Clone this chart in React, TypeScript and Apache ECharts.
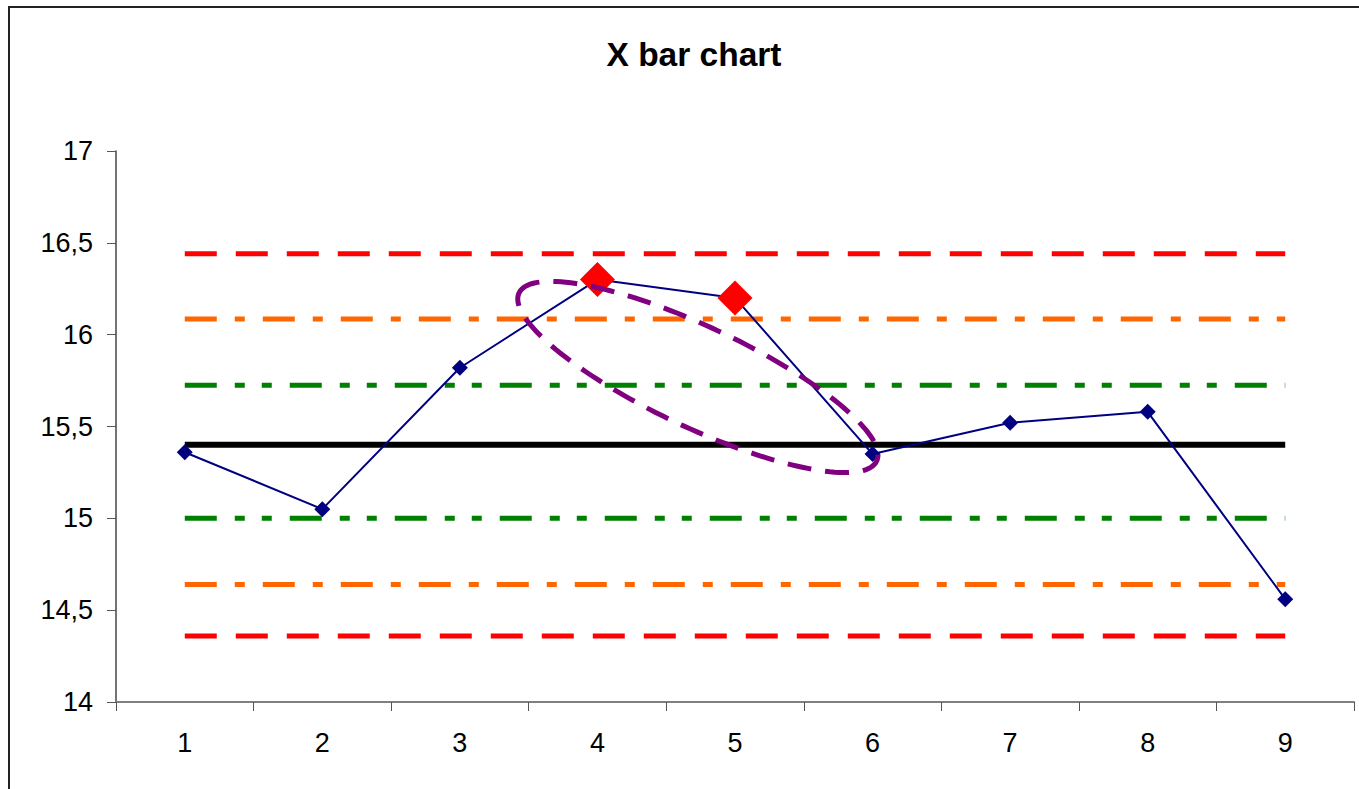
import React, { useEffect, useRef } from "react";
import * as echarts from "echarts";

const categories = ["1", "2", "3", "4", "5", "6", "7", "8", "9"];
const xbarValues = [15.36, 15.05, 15.82, 16.3, 16.2, 15.35, 15.52, 15.58, 14.56];
const outOfControl: (number | null)[] = [null, null, null, 16.3, 16.2, null, null, null, null];

const centerLine = 15.4;
const upperLimit = 16.44;
const lowerLimit = 14.36;
const upperTwoSigma = 16.085;
const lowerTwoSigma = 14.64;
const upperOneSigma = 15.725;
const lowerOneSigma = 15.0;

const yMin = 14;
const yMax = 17;
const yStep = 0.5;

// annotation ellipse: its two tips, in (category index, value)
const ellipseTips = [
  [2.43, 16.227],
  [5.03, 15.312],
];

const FONT = "'Liberation Sans', Arial, sans-serif";

export default function App() {
  const ref = useRef<HTMLDivElement>(null);

  useEffect(() => {
    if (!ref.current) return;
    const chart = echarts.init(ref.current, undefined, { renderer: "svg" });

    const flat = (v: number) => categories.map(() => v);
    const limitLine = (name: string, v: number, color: string, width: number, dash: number[]) => ({
      name,
      type: "line",
      data: flat(v),
      symbol: "none",
      silent: true,
      z: 2,
      lineStyle: { color, width, type: dash.length ? dash : "solid", cap: "butt" },
    });

    const redDash = [32, 19];
    const dashDot = [32, 18, 10, 18];
    const dashDotDot = [32, 18, 10, 17, 10, 18];

    chart.setOption({
      animation: false,
      backgroundColor: "#ffffff",
      textStyle: { fontFamily: FONT },
      graphic: [
        {
          type: "rect",
          shape: { x: 9, y: 7, width: 1500, height: 1000 },
          style: { fill: "none", stroke: "#222", lineWidth: 2 },
          silent: true,
          z: -1,
        },
        {
          type: "text",
          x: 694,
          y: 54,
          style: {
            text: "X bar chart",
            font: `bold 33.5px ${FONT}`,
            fill: "#000",
            align: "center",
            verticalAlign: "middle",
          },
        },
      ],
      grid: { left: 116, right: 5, top: 151, bottom: 87, containLabel: false },
      xAxis: {
        type: "category",
        data: categories,
        boundaryGap: true,
        axisLine: { show: true, lineStyle: { color: "#808080", width: 2 } },
        axisTick: { show: true, length: 9, lineStyle: { color: "#555", width: 1 } },
        axisLabel: { color: "#000", fontSize: 27, fontFamily: FONT, margin: 27 },
        splitLine: { show: false },
      },
      yAxis: {
        type: "value",
        min: yMin,
        max: yMax,
        interval: yStep,
        axisLine: { show: true, lineStyle: { color: "#444", width: 1.5 } },
        axisTick: { show: true, length: 9, lineStyle: { color: "#555", width: 1 } },
        axisLabel: {
          color: "#000",
          fontSize: 27,
          fontFamily: FONT,
          margin: 23,
          formatter: (v: number) => String(v).replace(".", ","),
        },
        splitLine: { show: false },
      },
      series: [
        limitLine("UCL", upperLimit, "#ff0000", 5, redDash),
        limitLine("LCL", lowerLimit, "#ff0000", 5, redDash),
        limitLine("+2σ", upperTwoSigma, "#ff6600", 5, dashDot),
        limitLine("-2σ", lowerTwoSigma, "#ff6600", 5, dashDot),
        limitLine("+1σ", upperOneSigma, "#008000", 5, dashDotDot),
        limitLine("-1σ", lowerOneSigma, "#008000", 5, dashDotDot),
        limitLine("CL", centerLine, "#000000", 6, []),
        {
          name: "X bar",
          type: "line",
          data: xbarValues,
          symbol: "diamond",
          symbolSize: 16,
          z: 3,
          itemStyle: { color: "#000080" },
          lineStyle: { color: "#000080", width: 2 },
        },
        {
          name: "Out of control",
          type: "scatter",
          data: outOfControl
            .map((v, i) => (v == null ? null : [i, v]))
            .filter((d) => d !== null),
          symbol: "diamond",
          symbolSize: 35,
          z: 4,
          itemStyle: { color: "#ff0000", opacity: 1 },
        },
        {
          name: "Ellipse",
          type: "custom",
          z: 5,
          silent: true,
          data: [[0, yMin]],
          renderItem: (params: any, api: any) => {
            // category axis rounds fractional indices: interpolate between neighbours
            const toPx = (ci: number, v: number) => {
              const i0 = Math.floor(ci);
              const f = ci - i0;
              const a0 = api.coord([i0, v]);
              const a1 = api.coord([i0 + 1, v]);
              return [a0[0] + (a1[0] - a0[0]) * f, a0[1]];
            };
            const p1 = toPx(ellipseTips[0][0], ellipseTips[0][1]);
            const p2 = toPx(ellipseTips[1][0], ellipseTips[1][1]);
            const cx = (p1[0] + p2[0]) / 2;
            const cy = (p1[1] + p2[1]) / 2;
            const dx = p2[0] - p1[0];
            const dy = p2[1] - p1[1];
            const a = Math.sqrt(dx * dx + dy * dy) / 2;
            const b = a * 0.255;
            const th = Math.atan2(dy, dx);
            const pts: number[][] = [];
            const N = 160;
            for (let k = 0; k < N; k++) {
              const t = Math.PI + (k / N) * Math.PI * 2;
              const ex = a * Math.cos(t);
              const ey = b * Math.sin(t);
              pts.push([
                cx + ex * Math.cos(th) - ey * Math.sin(th),
                cy + ex * Math.sin(th) + ey * Math.cos(th),
              ]);
            }
            return {
              type: "polygon",
              shape: { points: pts },
              style: { fill: "none", stroke: "#800080", lineWidth: 5, lineDash: [24, 14] },
            };
          },
        },
      ],
    } as any);

    return () => chart.dispose();
  }, []);

  return (
    <div
      ref={ref}
      style={{ position: "absolute", left: 0, top: 0, width: 1359, height: 789 }}
    />
  );
}
